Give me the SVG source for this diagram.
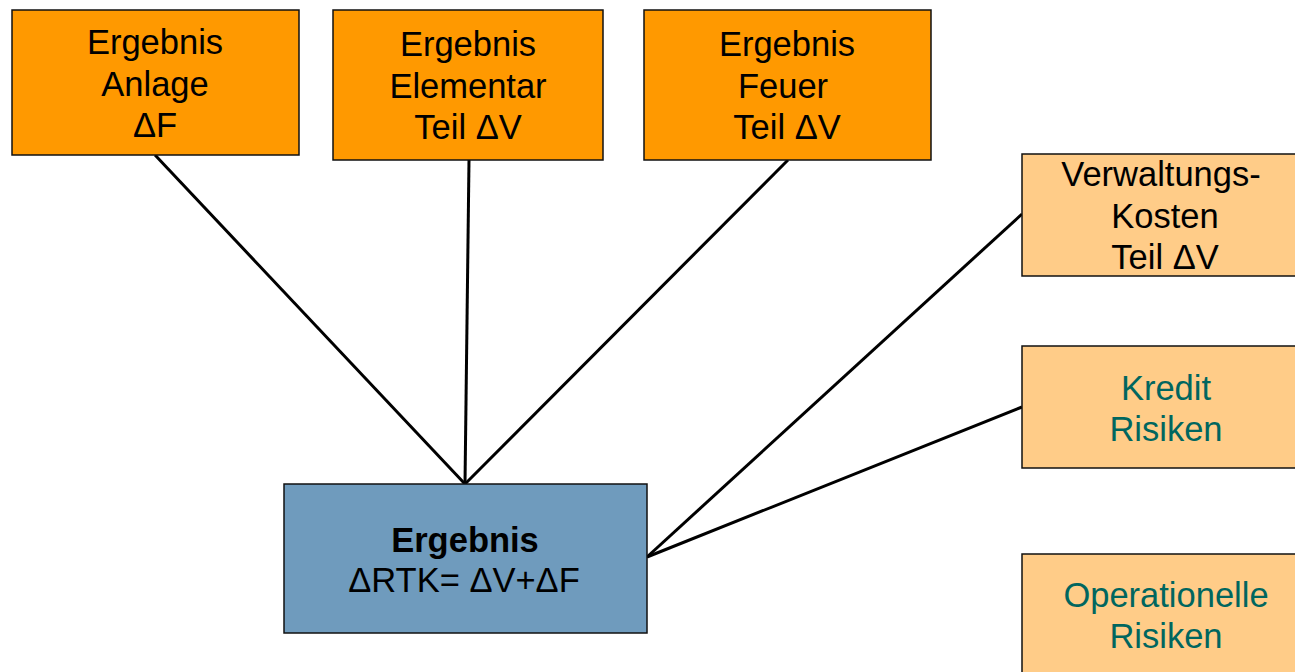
<svg xmlns="http://www.w3.org/2000/svg" width="1295" height="672" viewBox="0 0 1295 672">
<style>
.box{stroke:#111;stroke-width:1.5}
.dark{fill:#FF9900}
.light{fill:#FFCC88}
.blue{fill:#6F9BBD}
text{font-family:"Liberation Sans",Arial,sans-serif;font-size:34.5px;text-anchor:middle;fill:#000}
.teal{fill:#00665F}
.b{font-weight:bold}
.conn line{stroke:#000;stroke-width:3;fill:none}
</style>
<rect width="1295" height="672" fill="#fff"/>
<g class="conn" id="connectors">
<line x1="155" y1="155" x2="465" y2="484"/>
<line x1="469" y1="160" x2="465" y2="484"/>
<line x1="788" y1="160" x2="465" y2="484"/>
<line x1="1022" y1="214" x2="647" y2="557"/>
<line x1="1022" y1="407" x2="647" y2="557"/>
</g>
<g id="anlage">
<rect class="box dark" x="12" y="10" width="287" height="145"/>
<text x="155" y="54">Ergebnis</text>
<text x="155" y="96">Anlage</text>
<text x="155" y="137">ΔF</text>
</g>
<g id="elementar">
<rect class="box dark" x="333" y="10" width="270" height="150"/>
<text x="468" y="56">Ergebnis</text>
<text x="468" y="98">Elementar</text>
<text x="468" y="139">Teil ΔV</text>
</g>
<g id="feuer">
<rect class="box dark" x="644" y="10" width="287" height="150"/>
<text x="787" y="56">Ergebnis</text>
<text x="783" y="98">Feuer</text>
<text x="787" y="139">Teil ΔV</text>
</g>
<g id="verwaltung">
<rect class="box light" x="1022" y="154" width="280" height="122"/>
<text x="1161" y="186">Verwaltungs-</text>
<text x="1165" y="228">Kosten</text>
<text x="1165" y="269">Teil ΔV</text>
</g>
<g id="kredit">
<rect class="box light" x="1022" y="346" width="280" height="122"/>
<text class="teal" x="1166" y="400">Kredit</text>
<text class="teal" x="1166" y="441">Risiken</text>
</g>
<g id="operationelle">
<rect class="box light" x="1022" y="554" width="280" height="130"/>
<text class="teal" x="1166" y="607">Operationelle</text>
<text class="teal" x="1166" y="648">Risiken</text>
</g>
<g id="ergebnis">
<rect class="box blue" x="284" y="484" width="363" height="149"/>
<text class="b" x="465" y="552">Ergebnis</text>
<text x="464" y="592">ΔRTK= ΔV+ΔF</text>
</g>
</svg>
